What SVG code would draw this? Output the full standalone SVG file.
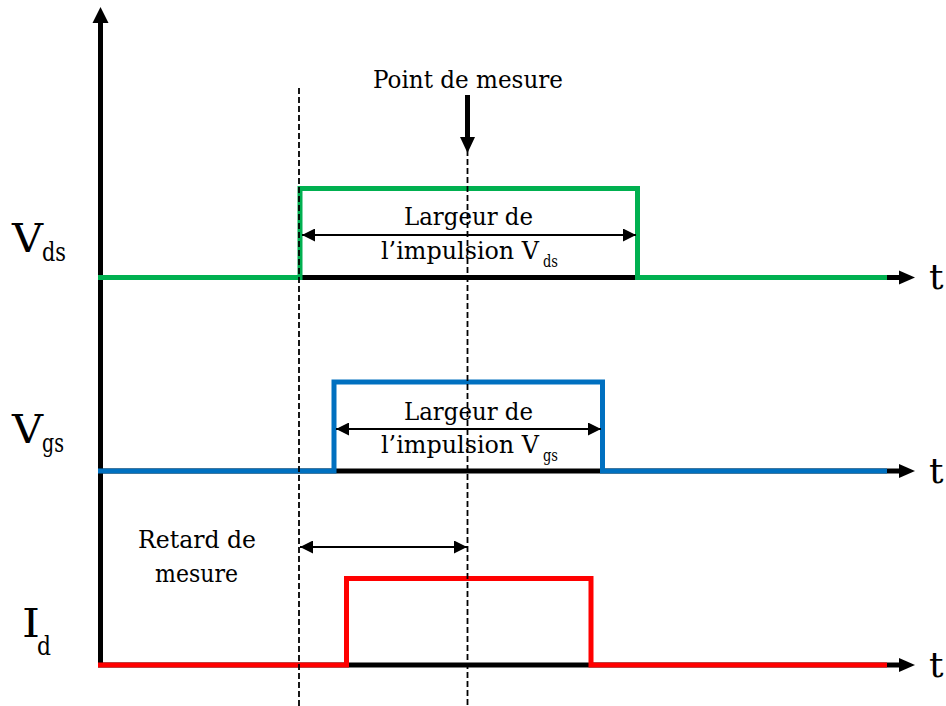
<svg xmlns="http://www.w3.org/2000/svg" width="946" height="706" viewBox="0 0 946 706">
<style>
text{font-family:"DejaVu Serif","Liberation Serif","Noto Serif",serif;fill:#000}
.lbl{font-size:25px}
.big{font-size:40px}
.sub{font-size:26px}
.small{font-size:16px}
.tt{font-size:36px}
.ax{stroke:#000;stroke-width:5;fill:none}
.sig{stroke-width:5;fill:none;stroke-linejoin:miter}
.dash{stroke:#000;stroke-width:1.8;stroke-dasharray:6,3;fill:none}
.dim{stroke:#000;stroke-width:1.8;fill:none;marker-start:url(#ah);marker-end:url(#ah)}
</style>
<defs>
<marker id="ah" viewBox="0 0 12 12" refX="12" refY="6" markerWidth="13" markerHeight="13" markerUnits="userSpaceOnUse" orient="auto-start-reverse">
<path d="M0,0 L12,6 L0,12 z" fill="#000"/>
</marker>
</defs>
<rect width="946" height="706" fill="#fff"/>
<g id="axes">
<line class="ax" x1="100.5" y1="20" x2="100.5" y2="667"/>
<polygon points="100.5,7 92.5,23 108.5,23" fill="#000"/>
<line class="ax" x1="98" y1="277.5" x2="902" y2="277.5"/>
<polygon points="915,277.5 899,270.5 899,284.5" fill="#000"/>
<line class="ax" x1="98" y1="471" x2="902" y2="471"/>
<polygon points="915,471 899,464 899,478" fill="#000"/>
<line class="ax" x1="98" y1="665" x2="902" y2="665"/>
<polygon points="915,665 899,658 899,672" fill="#000"/>
<text class="tt" x="929" y="289">t</text>
<text class="tt" x="929" y="483">t</text>
<text class="tt" x="929" y="677">t</text>
</g>
<g id="vds">
<path class="sig" stroke="#00B050" d="M98,277.5 H300 V188.5 H637.5 V277.5 H887"/>
<text class="big" x="12" y="252" textLength="31" lengthAdjust="spacingAndGlyphs">V</text>
<text class="sub" x="42" y="261" textLength="24" lengthAdjust="spacingAndGlyphs">ds</text>
</g>
<g id="vgs">
<path class="sig" stroke="#0070C0" d="M98,471 H334 V382 H602.5 V471 H887"/>
<text class="big" x="12" y="443" textLength="31" lengthAdjust="spacingAndGlyphs">V</text>
<text class="sub" x="42" y="452" textLength="22" lengthAdjust="spacingAndGlyphs">gs</text>
</g>
<g id="id">
<path class="sig" stroke="#FF0000" d="M98,665 H346.5 V578.5 H591 V665 H887"/>
<text class="big" x="22" y="637" textLength="18" lengthAdjust="spacingAndGlyphs">I</text>
<text class="sub" x="37" y="655" textLength="14" lengthAdjust="spacingAndGlyphs">d</text>
</g>
<g id="connectors">
<line class="dash" x1="299" y1="88" x2="299" y2="706"/>
<line class="dash" x1="467.5" y1="150" x2="467.5" y2="706"/>
<line x1="467.5" y1="95" x2="467.5" y2="140" stroke="#000" stroke-width="5"/>
<polygon points="467.5,153 460,137 475,137" fill="#000"/>
<line class="dim" x1="302" y1="235" x2="636" y2="235"/>
<line class="dim" x1="336" y1="429" x2="601" y2="429"/>
<line class="dim" x1="300" y1="547" x2="467" y2="547"/>
</g>
<g id="labels">
<text class="lbl" x="373" y="88" textLength="190" lengthAdjust="spacingAndGlyphs">Point de mesure</text>
<text class="lbl" x="404" y="225" textLength="129" lengthAdjust="spacingAndGlyphs">Largeur de</text>
<text class="lbl" x="381" y="259" textLength="158" lengthAdjust="spacingAndGlyphs">l’impulsion V</text>
<text class="small" x="543" y="267" textLength="15" lengthAdjust="spacingAndGlyphs">ds</text>
<text class="lbl" x="404" y="420" textLength="129" lengthAdjust="spacingAndGlyphs">Largeur de</text>
<text class="lbl" x="381" y="453" textLength="158" lengthAdjust="spacingAndGlyphs">l’impulsion V</text>
<text class="small" x="543" y="461" textLength="15" lengthAdjust="spacingAndGlyphs">gs</text>
<text class="lbl" x="138" y="548" textLength="118" lengthAdjust="spacingAndGlyphs">Retard de</text>
<text class="lbl" x="155" y="582" textLength="83" lengthAdjust="spacingAndGlyphs">mesure</text>
</g>
</svg>
